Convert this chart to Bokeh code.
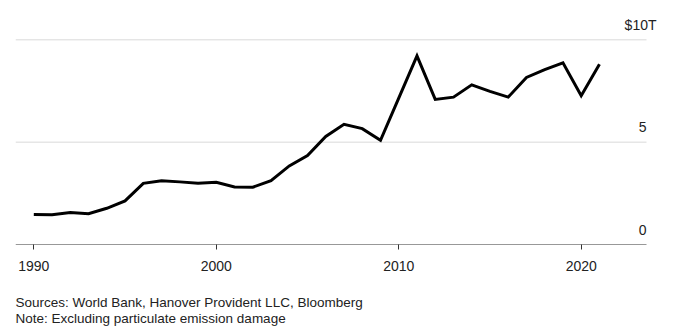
from bokeh.plotting import figure
from bokeh.models import ColumnDataSource, FixedTicker, Range1d, Title
from bokeh.core.properties import value
from bokeh.embed import file_html
from bokeh.resources import INLINE

# ---- data ----
years = [1990, 1991, 1992, 1993, 1994, 1995, 1996, 1997, 1998, 1999,
         2000, 2001, 2002, 2003, 2004, 2005, 2006, 2007, 2008, 2009,
         2010, 2011, 2012, 2013, 2014, 2015, 2016, 2017, 2018, 2019,
         2020, 2021]
damage_trillions = [1.46, 1.45, 1.56, 1.50, 1.77, 2.13, 2.99, 3.12, 3.06, 2.99,
                    3.04, 2.81, 2.80, 3.12, 3.84, 4.35, 5.28, 5.87, 5.66, 5.09,
                    7.15, 9.22, 7.09, 7.20, 7.80, 7.48, 7.20, 8.16, 8.54, 8.88,
                    7.27, 8.81]
x_ticks = [1990, 2000, 2010, 2020]
y_ticks = [0, 5, 10]
y_tick_labels = ["0", "5", "$10T"]
source_note = "Sources: World Bank, Hanover Provident LLC, Bloomberg"
footnote = "Note: Excluding particulate emission damage"

# ---- layout constants ----
FONT = "Liberation Sans"
PX_PER_YEAR = 18.247
X_START = 1988.997
X_END = X_START + 665 / PX_PER_YEAR       # frame reaches the canvas' right edge
X_RULE_END = X_START + 631 / PX_PER_YEAR  # grid lines / baseline stop here
Y_START, Y_END = 0.0, 11.14

p = figure(width=680, height=336, output_backend="svg", toolbar_location=None,
           x_range=Range1d(X_START, X_END), y_range=Range1d(Y_START, Y_END))
p.min_border = 0
p.min_border_left = 15
p.min_border_right = 0
p.min_border_top = 16
p.min_border_bottom = 92
p.outline_line_color = None
p.background_fill_color = "white"
p.border_fill_color = "white"

# grid lines (drawn as rules that stop short of the right edge)
p.xgrid.visible = False
p.ygrid.visible = False
grid_src = ColumnDataSource(dict(y=y_ticks[1:]))
p.segment(x0=X_START, x1=X_RULE_END, y0="y", y1="y", source=grid_src,
          line_color="#d9d9d9", line_width=1)
# baseline
p.segment(x0=[X_START], x1=[X_RULE_END], y0=[y_ticks[0]], y1=[y_ticks[0]],
          line_color="#333333", line_width=1)

p.line(years, damage_trillions, line_color="black", line_width=3, line_join="miter")

# x axis (ticks + labels; line drawn above as baseline)
xa = p.xaxis[0]
xa.ticker = FixedTicker(ticks=x_ticks)
xa.major_tick_out = 5
xa.major_tick_in = 0
xa.minor_tick_out = 0
xa.minor_tick_in = 0
xa.axis_line_color = None
xa.major_tick_line_color = "#333333"
xa.major_label_text_font = FONT
xa.major_label_text_font_size = "14px"
xa.major_label_text_color = "#222222"
xa.major_label_standoff = 11
# invisible spacer label between tick labels and the notes
xa.axis_label = " "
xa.axis_label_text_font_size = "1px"
xa.axis_label_text_color = "white"
xa.axis_label_standoff = 15

p.yaxis.visible = False

# y tick labels above grid lines
offsets = [10 if lbl.endswith("T") else 0 for lbl in y_tick_labels]
ysrc = ColumnDataSource(dict(y=y_ticks, text=y_tick_labels, xo=offsets))
p.text(x=X_RULE_END, y="y", text="text", source=ysrc, x_offset="xo",
       y_offset=-15, text_align="right", text_baseline="alphabetic",
       text_font=value(FONT), text_font_size="14px", text_color="#222222")

p.add_layout(Title(text=source_note + "\n" + footnote, align="left", text_font=FONT,
                   text_font_size="13.5px", text_font_style="normal",
                   text_line_height=1.05,
                   text_color="#222222", standoff=0, offset=0), "below")

open("out.html", "w").write(file_html(p, INLINE))
